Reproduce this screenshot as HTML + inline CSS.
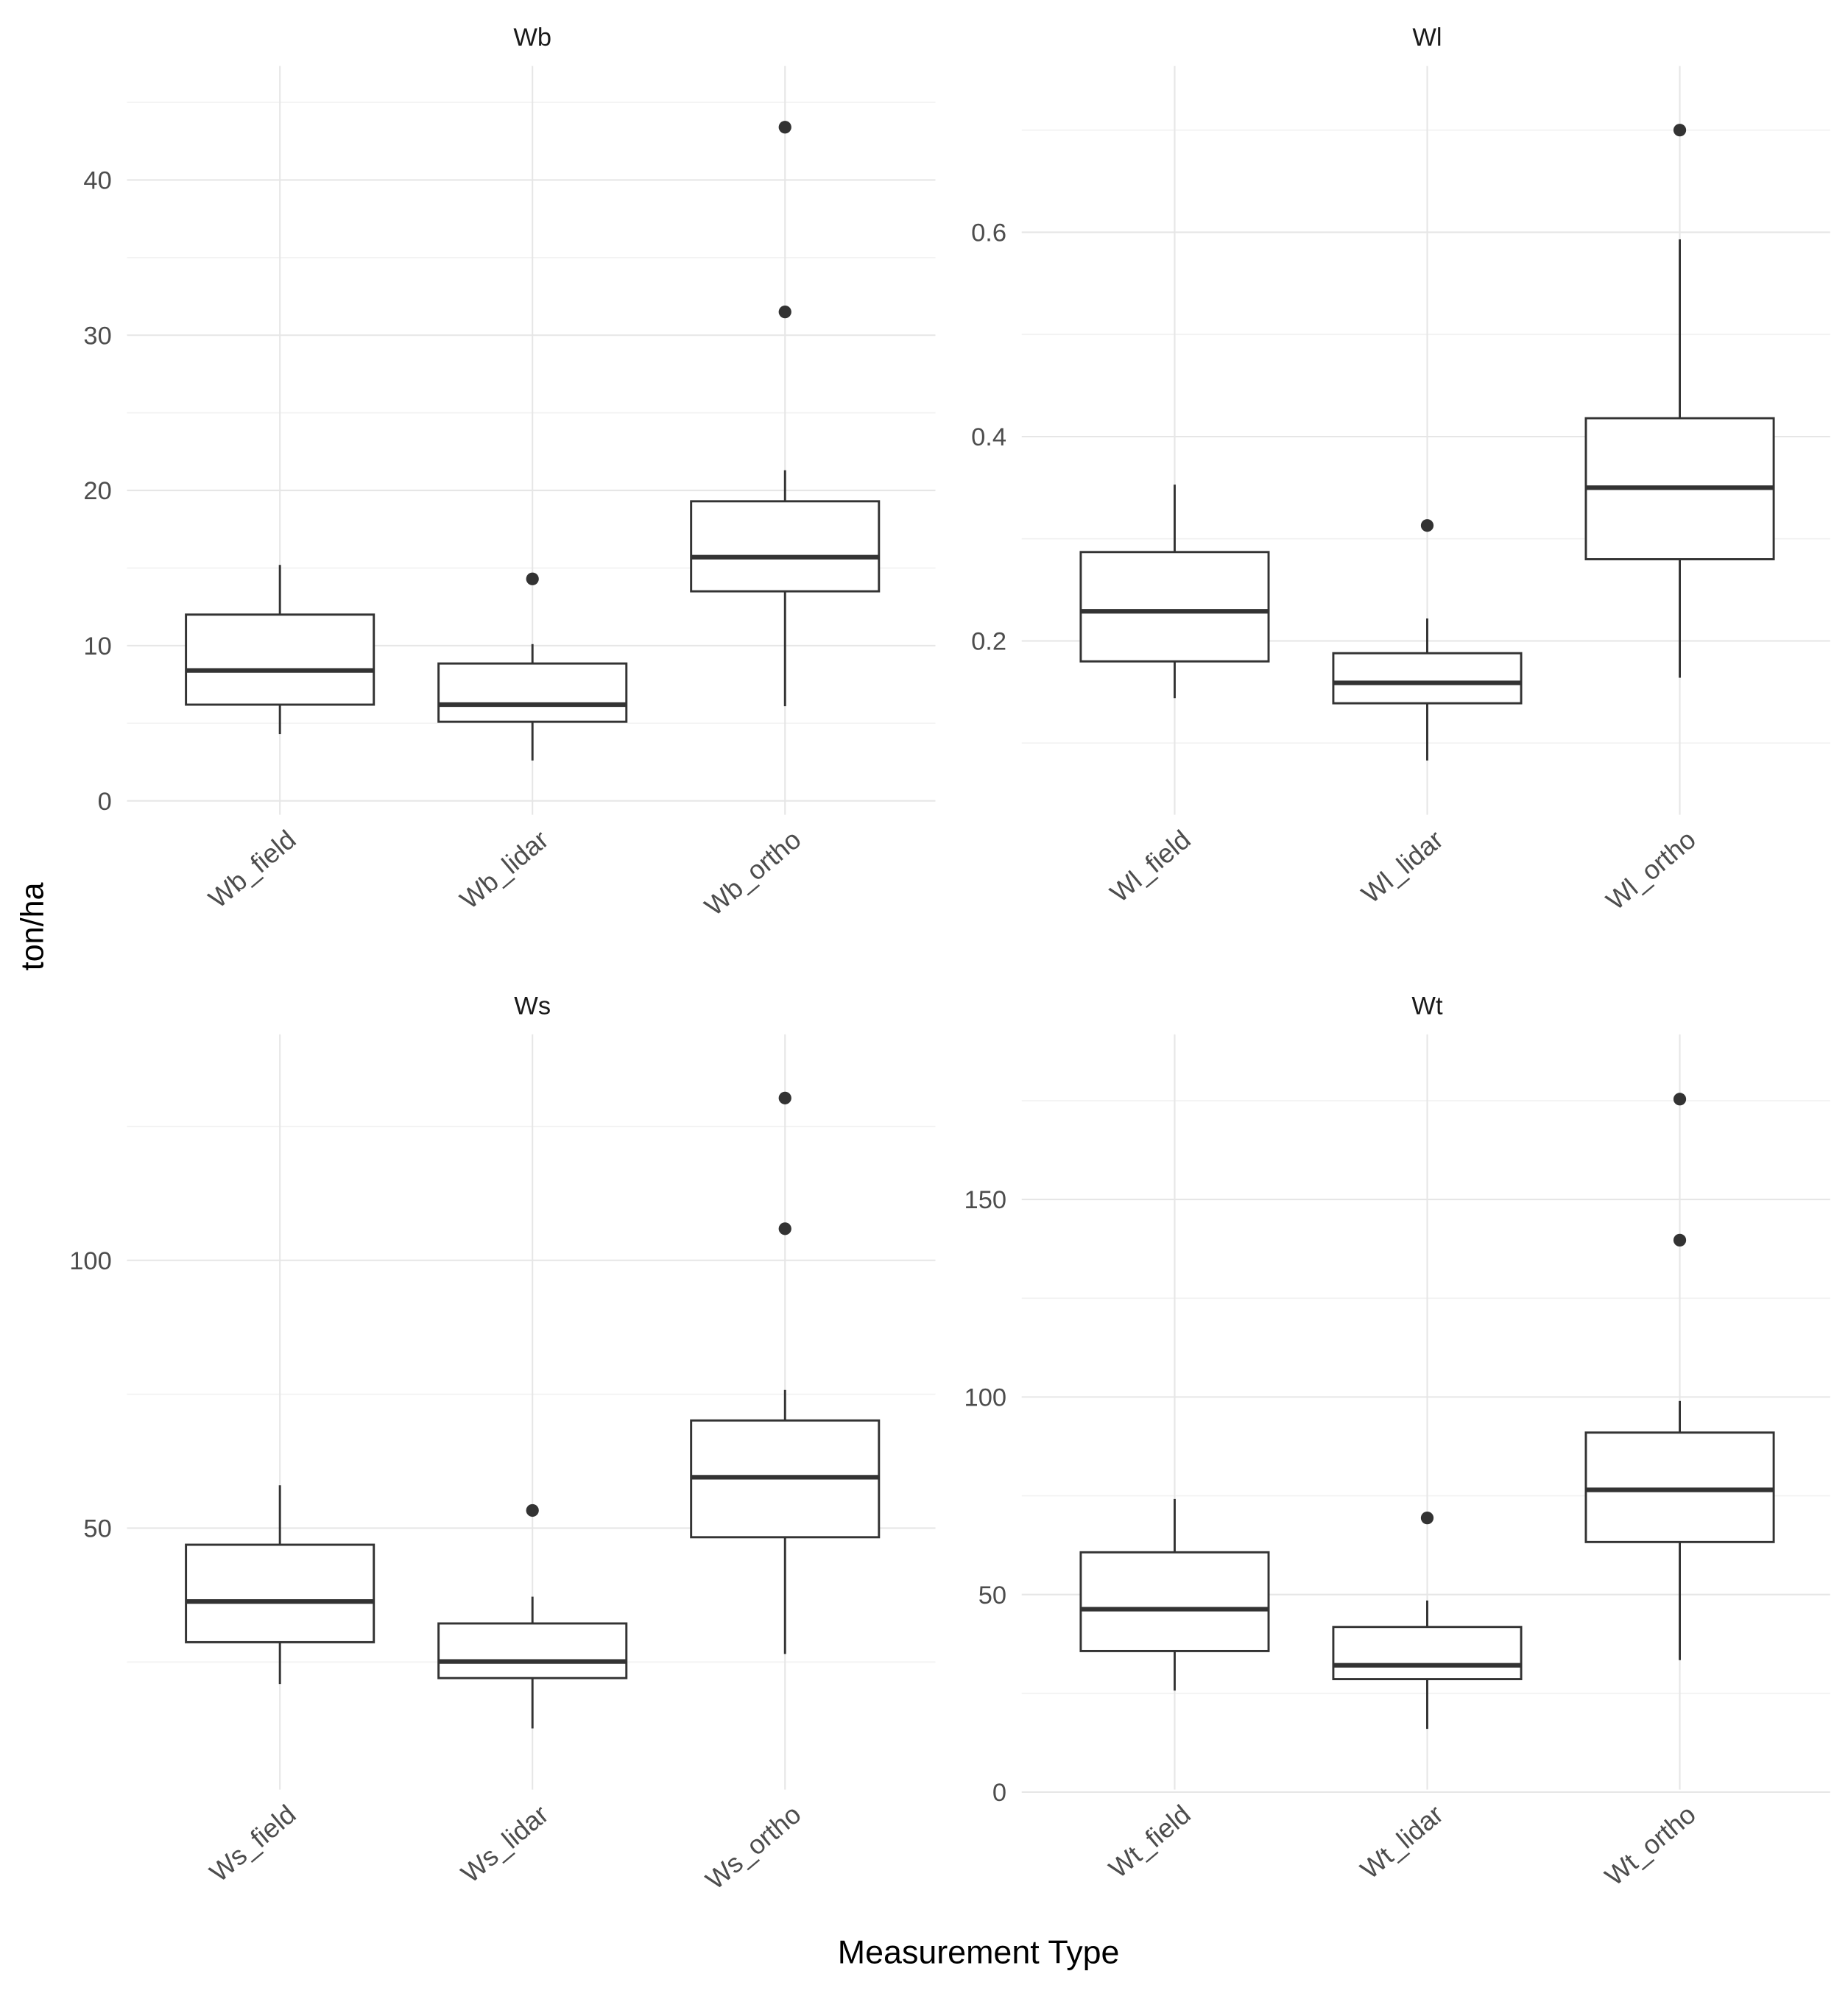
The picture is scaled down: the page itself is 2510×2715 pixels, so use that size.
<!DOCTYPE html>
<html><head><meta charset="utf-8">
<style>
html,body{margin:0;padding:0;background:#fff;}
svg{display:block;}
text{font-family:"Liberation Sans",Arial,sans-serif;}
</style></head>
<body>
<svg id="chart" width="2510" height="2715" viewBox="0 0 1456 1575" xmlns="http://www.w3.org/2000/svg">
<rect width="1456" height="1575" fill="#fff"/>
<text x="0" y="0" transform="translate(34,730) rotate(-90)" text-anchor="middle" font-size="25" fill="#000">ton/ha</text>
<text x="771" y="1547" text-anchor="middle" font-size="26" fill="#000">Measurement Type</text>
</svg>
<script>
// ---- data ----
const panelNames = ["Wb","Wl","Ws","Wt"];
const categoriesWb = ["Wb_field","Wb_lidar","Wb_ortho"];
const categoriesWl = ["Wl_field","Wl_lidar","Wl_ortho"];
const categoriesWs = ["Ws_field","Ws_lidar","Ws_ortho"];
const categoriesWt = ["Wt_field","Wt_lidar","Wt_ortho"];
// [low whisker, Q1, median, Q3, high whisker]
const statsWb = [[4.3,6.2,8.4,12.0,15.2],[2.6,5.1,6.2,8.85,10.1],[6.1,13.5,15.7,19.3,21.3]];
const outliersWb = [[],[14.3],[43.4,31.5]];
const statsWl = [[0.144,0.18,0.229,0.287,0.353],[0.083,0.139,0.159,0.188,0.222],[0.164,0.28,0.35,0.418,0.593]];
const outliersWl = [[],[0.313],[0.70]];
const statsWs = [[20.9,28.7,36.3,46.9,58],[12.6,22,25.1,32.2,37.2],[26.5,48.3,59.5,70.1,75.8]];
const outliersWs = [[],[53.3],[130.3,105.9]];
const statsWt = [[25.7,35.7,46.3,60.7,74.2],[16,28.6,32.1,41.8,48.5],[33.4,63.3,76.5,91,99]];
const outliersWt = [[],[69.4],[175.4,139.7]];
const majorTicksWb = [0,10,20,30,40];
const minorTicksWb = [5,15,25,35,45];
const majorTicksWl = [0.2,0.4,0.6];
const minorTicksWl = [0.1,0.3,0.5,0.7];
const majorTicksWs = [50,100];
const minorTicksWs = [25,75,125];
const majorTicksWt = [0,50,100,150];
const minorTicksWt = [25,75,125,175];

const NS="http://www.w3.org/2000/svg";
const svg=document.getElementById("chart");
function mk(tag,attrs,parent){const e=document.createElementNS(NS,tag);for(const k in attrs)e.setAttribute(k,attrs[k]);(parent||svg).appendChild(e);return e;}

const panels=[
 {name:panelNames[0],cats:categoriesWb,stats:statsWb,outs:outliersWb,major:majorTicksWb,minor:minorTicksWb,x0:100,x1:737,mid:419.5,y0:52,y1:642,v0:0,p0:631,k:12.23,fmt:v=>String(v)},
 {name:panelNames[1],cats:categoriesWl,stats:statsWl,outs:outliersWl,major:majorTicksWl,minor:minorTicksWl,x0:805,x1:1442,mid:1124.5,y0:52,y1:642,v0:0.2,p0:505,k:805,fmt:v=>v.toFixed(1)},
 {name:panelNames[2],cats:categoriesWs,stats:statsWs,outs:outliersWs,major:majorTicksWs,minor:minorTicksWs,x0:100,x1:737,mid:419.5,y0:815,y1:1410,v0:50,p0:1204,k:4.22,fmt:v=>String(v)},
 {name:panelNames[3],cats:categoriesWt,stats:statsWt,outs:outliersWt,major:majorTicksWt,minor:minorTicksWt,x0:805,x1:1442,mid:1124.5,y0:815,y1:1410,v0:0,p0:1412,k:3.113,fmt:v=>String(v)}
];

panels.forEach(P=>{
 const g=mk("g",{});
 
 
 const y=v=>P.p0-(v-P.v0)*P.k;
 const step=199;
 const xc=i=>P.mid+step*(i-(P.cats.length-1)/2);
 P.minor.forEach(v=>{const l=mk("line",{x1:P.x0,x2:P.x1,y1:y(v),y2:y(v),stroke:"#f2f2f2","stroke-width":1},g);
  });
 P.major.forEach(v=>{const l=mk("line",{x1:P.x0,x2:P.x1,y1:y(v),y2:y(v),stroke:"#e6e6e6","stroke-width":1.2},g);
  
  const t=mk("text",{x:P.x0-12,y:y(v)+7,"text-anchor":"end","font-size":20,fill:"#4d4d4d"},g);t.textContent=P.fmt(v);
  });
 P.cats.forEach((c,i)=>{const l=mk("line",{x1:xc(i),x2:xc(i),y1:P.y0,y2:P.y1,stroke:"#e6e6e6","stroke-width":1.2},g);
  });
 const st=mk("text",{x:P.mid,y:P.y0-16,"text-anchor":"middle","font-size":20,fill:"#1a1a1a"},g);st.textContent=P.name;
 
 const hw=74;
 P.stats.forEach((s,i)=>{
  const bg=mk("g",{},g);
  
  
  const cx=xc(i);
  mk("line",{x1:cx,x2:cx,y1:y(s[0]),y2:y(s[1]),stroke:"#333","stroke-width":1.7},bg);
  mk("line",{x1:cx,x2:cx,y1:y(s[3]),y2:y(s[4]),stroke:"#333","stroke-width":1.7},bg);
  mk("rect",{x:cx-hw,y:y(s[3]),width:2*hw,height:y(s[1])-y(s[3]),fill:"#fff",stroke:"#333","stroke-width":1.7},bg);
  mk("line",{x1:cx-hw,x2:cx+hw,y1:y(s[2]),y2:y(s[2]),stroke:"#333","stroke-width":3.6},bg);
  P.outs[i].forEach(o=>{const c=mk("circle",{cx:cx,cy:y(o),r:5,fill:"#333"},bg);
   });
  const t=mk("text",{x:0,y:0,transform:`translate(${cx+14},${P.y1+22}) rotate(-40)`,"text-anchor":"end","font-size":21,fill:"#4d4d4d"},g);
  t.textContent=P.cats[i];
  
 });
});
</script>
</body></html>
